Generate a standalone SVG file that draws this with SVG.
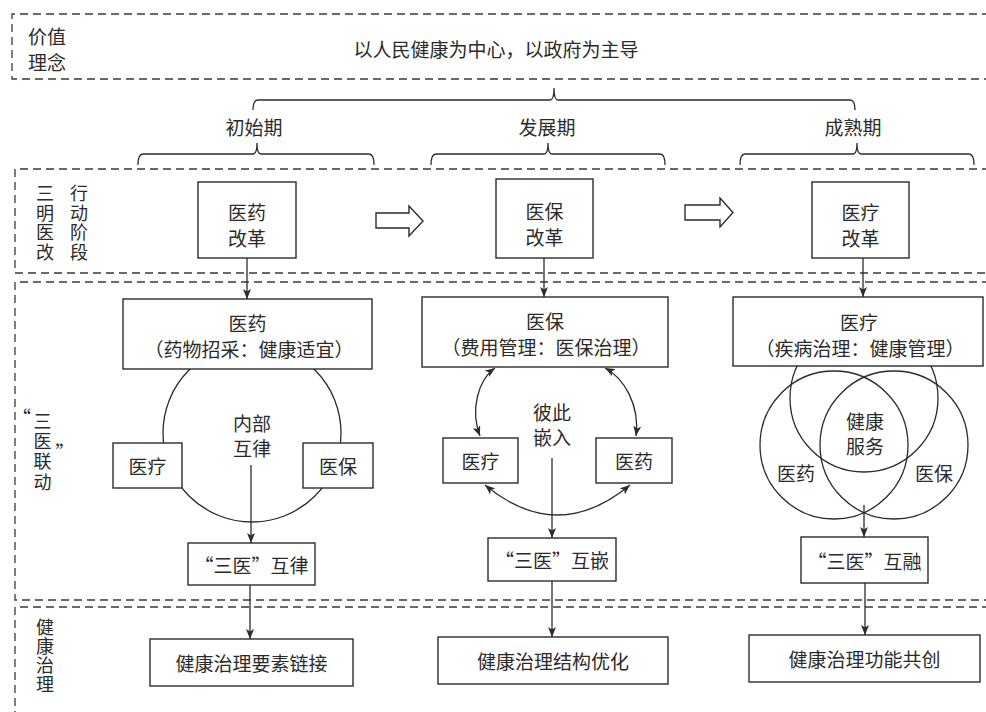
<svg xmlns="http://www.w3.org/2000/svg" width="986" height="712" viewBox="0 0 986 712">
<style>
text{font-family:"Noto Sans CJK SC","Liberation Sans",sans-serif;fill:#2b2b2b;dominant-baseline:central;text-anchor:middle;font-size:19px}
.l{text-anchor:start}
.v{writing-mode:vertical-rl;text-anchor:start;font-size:18px}
.dash{fill:none;stroke:#3a3a3a;stroke-width:1.3;stroke-dasharray:8 5}
.box{fill:#fff;stroke:#2b2b2b;stroke-width:1.4}
.ln{fill:none;stroke:#2b2b2b;stroke-width:1.3}
.arr{fill:none;stroke:#2b2b2b;stroke-width:1.3;marker-end:url(#ah)}
.dbl{fill:none;stroke:#2b2b2b;stroke-width:1.3;marker-end:url(#ah);marker-start:url(#ah)}
.circ{fill:none;stroke:#2b2b2b;stroke-width:1.3}
</style>
<defs>
<marker id="ah" viewBox="0 0 10 8" refX="10" refY="4" markerWidth="10" markerHeight="8" markerUnits="userSpaceOnUse" orient="auto-start-reverse">
<path d="M0,0 L10,4 L0,8 L2.5,4 z" fill="#2b2b2b"/>
</marker>
</defs>
<rect width="986" height="712" fill="#fff"/>

<g id="bands">
<path class="dash" d="M990,14 H12 V79 H990"/>
<path class="dash" d="M990,169 H15 V273 H990"/>
<path class="dash" d="M990,282 H15 V600 H990"/>
<path class="dash" d="M990,607 H15 V715"/>
</g>

<g id="band-labels">
<text class="l" x="28" y="35.5" font-size="18.5">价值<tspan x="28" dy="25">理念</tspan></text>
<text x="496" y="48" font-size="20.5">以人民健康为中心，以政府为主导</text>
<text class="v" x="45" y="184" letter-spacing="1.7">三明医改</text>
<text class="v" x="79" y="184" letter-spacing="1.7">行动阶段</text>
<text x="31" y="416" font-size="15" style="text-anchor:end">“</text>
<text class="v" x="42.5" y="412" letter-spacing="2.3">三医联动</text>
<text x="55.5" y="451" font-size="15" class="l">”</text>
<text class="v" x="45" y="618.5" font-size="19" letter-spacing="1">健康治理</text>
</g>

<g id="braces">
<path class="ln" d="M253,110 Q253,100 258,100 H550 Q554,100 554,88 Q554,100 558,100 H850 Q855,100 855,110"/>
<text x="254" y="126">初始期</text>
<text x="547" y="126">发展期</text>
<text x="853" y="126">成熟期</text>
<path class="ln" d="M138,165 Q138,154 143,154 H253 Q257,154 257,143 Q257,154 261,154 H369 Q374,154 374,165"/>
<path class="ln" d="M431,165 Q431,154 436,154 H544 Q548,154 548,143 Q548,154 552,154 H660 Q665,154 665,165"/>
<path class="ln" d="M740,165 Q740,154 745,154 H853 Q857,154 857,143 Q857,154 861,154 H969 Q974,154 974,165"/>
</g>

<g id="stage-arrows">
<path class="box" d="M376,213 H409 V206 L423,221 L409,236 V228 H376 Z"/>
<path class="box" d="M685,205 H720 V198 L733,212.5 L720,227 V220 H685 Z"/>
</g>

<g id="connectors">
<line class="arr" x1="247" y1="258" x2="247" y2="299"/>
<line class="arr" x1="544" y1="258" x2="544" y2="297"/>
<line class="arr" x1="863" y1="258" x2="863" y2="297"/>
<line class="arr" x1="251" y1="465" x2="251" y2="543"/>
<line class="arr" x1="250" y1="585" x2="250" y2="639"/>
<line class="arr" x1="552" y1="458" x2="552" y2="538"/>
<line class="arr" x1="552" y1="581" x2="552" y2="637"/>
<line class="arr" x1="864" y1="505" x2="864" y2="537"/>
<line class="arr" x1="865" y1="583" x2="865" y2="635"/>
<path class="dbl" d="M495,368 C478,380 470,410 480,436"/>
<path class="dbl" d="M605,368 C624,378 640,405 636,436"/>
<path class="dbl" d="M485,485 Q557.5,545 630,485"/>
</g>

<g id="circle-1">
<circle class="circ" cx="252" cy="433" r="89"/>
</g>
<g id="venn">
<circle class="circ" cx="864" cy="398" r="74"/>
<circle class="circ" cx="834" cy="445" r="74"/>
<circle class="circ" cx="894" cy="445" r="74"/>
<text x="865" y="420" font-size="18.5">健康<tspan x="865" dy="24.5">服务</tspan></text>
<text x="796" y="472">医药</text>
<text x="934" y="472">医保</text>
</g>

<g id="n-yiyao-reform">
<rect class="box" x="198" y="182" width="98" height="76"/>
<text x="247" y="211.5">医药<tspan x="247" dy="25">改革</tspan></text>
</g>
<g id="n-yibao-reform">
<rect class="box" x="496" y="179" width="97" height="79"/>
<text x="544.5" y="210.5">医保<tspan x="544.5" dy="25">改革</tspan></text>
</g>
<g id="n-yiliao-reform">
<rect class="box" x="812" y="182" width="97" height="76"/>
<text x="860.5" y="211.5">医疗<tspan x="860.5" dy="25">改革</tspan></text>
</g>

<g id="n-yiyao-main">
<rect class="box" x="123" y="299" width="249" height="70"/>
<text x="247.5" y="322">医药<tspan x="249" dy="26">（药物招采：健康适宜）</tspan></text>
</g>
<g id="n1-inner">
<text x="252" y="422" font-size="18.5">内部<tspan x="252" dy="24.5">互律</tspan></text>
</g>
<g id="n1-yiliao">
<rect class="box" x="113" y="443" width="69" height="45"/>
<text x="147.5" y="465.5">医疗</text>
</g>
<g id="n1-yibao">
<rect class="box" x="303" y="443" width="70" height="45"/>
<text x="338" y="465.5">医保</text>
</g>
<g id="n1-result">
<rect class="box" x="188" y="543" width="127" height="42"/>
<text x="251.5" y="564">“三医”互律</text>
</g>

<g id="n-yibao-main">
<rect class="box" x="422" y="297" width="246" height="70"/>
<text x="545" y="320">医保<tspan x="546" dy="25.5">（费用管理：医保治理）</tspan></text>
</g>
<g id="n2-inner">
<text x="552" y="411.5" font-size="18.5">彼此<tspan x="552" dy="24.5">嵌入</tspan></text>
</g>
<g id="n2-yiliao">
<rect class="box" x="443" y="438" width="75" height="45"/>
<text x="480.5" y="460.5">医疗</text>
</g>
<g id="n2-yiyao">
<rect class="box" x="596" y="438" width="76" height="45"/>
<text x="634" y="460.5">医药</text>
</g>
<g id="n2-result">
<rect class="box" x="488" y="538" width="128" height="43"/>
<text x="552" y="559.5">“三医”互嵌</text>
</g>

<g id="n-yiliao-main">
<rect class="box" x="733" y="297" width="250" height="69"/>
<text x="859" y="321.5">医疗<tspan x="860" dy="25.5">（疾病治理：健康管理）</tspan></text>
</g>
<g id="n3-result">
<rect class="box" x="801" y="537" width="127" height="46"/>
<text x="864.5" y="560">“三医”互融</text>
</g>

<g id="n-gov-1">
<rect class="box" x="150" y="639" width="203" height="47"/>
<text x="251.5" y="662.5" font-size="20">健康治理要素链接</text>
</g>
<g id="n-gov-2">
<rect class="box" x="438" y="637" width="230" height="47"/>
<text x="553" y="660.5" font-size="20">健康治理结构优化</text>
</g>
<g id="n-gov-3">
<rect class="box" x="749" y="635" width="231" height="47"/>
<text x="864.5" y="658.5" font-size="20">健康治理功能共创</text>
</g>
</svg>
